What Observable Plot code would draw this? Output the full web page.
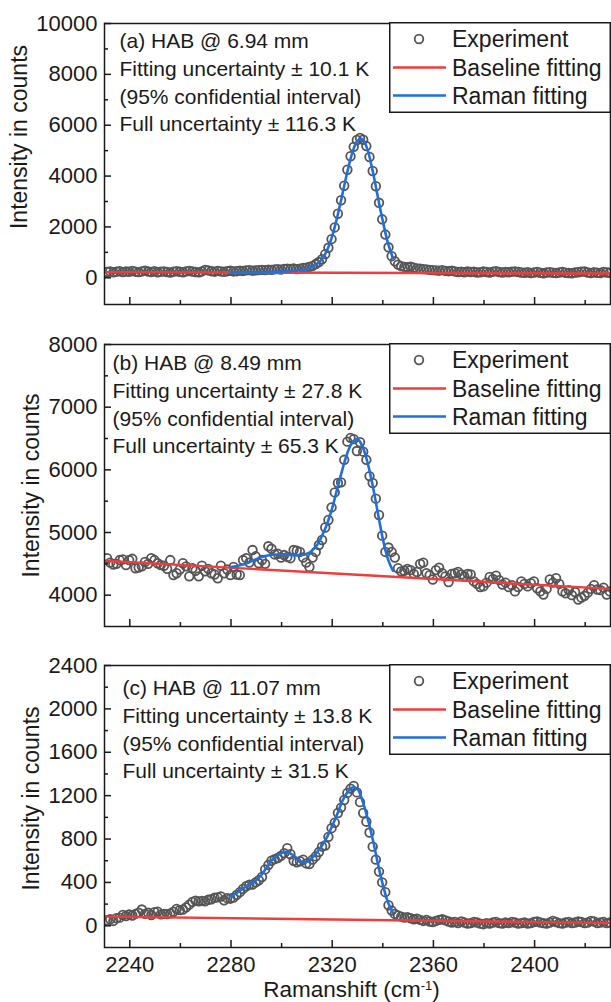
<!DOCTYPE html>
<html><head><meta charset="utf-8">
<script src="https://cdn.jsdelivr.net/npm/d3@7"></script>
<script src="https://cdn.jsdelivr.net/npm/@observablehq/plot@0.6"></script>
<style>
html,body{margin:0;padding:0;background:#fff;overflow:hidden;}
#chart{width:611px;}
.panel{position:relative;width:611px;}
.panel svg{display:block;}
</style></head><body><div id="chart"></div>
<script>
// Raman shift grid (cm^-1)
const ramanShift = [
2231,2232.25,2233.5,2234.75,2236,2237.25,2238.5,2239.75,2241,2242.25,
2243.5,2244.75,2246,2247.25,2248.5,2249.75,2251,2252.25,2253.5,2254.75,
2256,2257.25,2258.5,2259.75,2261,2262.25,2263.5,2264.75,2266,2267.25,
2268.5,2269.75,2271,2272.25,2273.5,2274.75,2276,2277.25,2278.5,2279.75,
2281,2282.25,2283.5,2284.75,2286,2287.25,2288.5,2289.75,2291,2292.25,
2293.5,2294.75,2296,2297.25,2298.5,2299.75,2301,2302.25,2303.5,2304.75,
2306,2307.25,2308.5,2309.75,2311,2312.25,2313.5,2314.75,2316,2317.25,
2318.5,2319.75,2321,2322.25,2323.5,2324.75,2326,2327.25,2328.5,2329.75,
2331,2332.25,2333.5,2334.75,2336,2337.25,2338.5,2339.75,2341,2342.25,
2343.5,2344.75,2346,2347.25,2348.5,2349.75,2351,2352.25,2353.5,2354.75,
2356,2357.25,2358.5,2359.75,2361,2362.25,2363.5,2364.75,2366,2367.25,
2368.5,2369.75,2371,2372.25,2373.5,2374.75,2376,2377.25,2378.5,2379.75,
2381,2382.25,2383.5,2384.75,2386,2387.25,2388.5,2389.75,2391,2392.25,
2393.5,2394.75,2396,2397.25,2398.5,2399.75,2401,2402.25,2403.5,2404.75,
2406,2407.25,2408.5,2409.75,2411,2412.25,2413.5,2414.75,2416,2417.25,
2418.5,2419.75,2421,2422.25,2423.5,2424.75,2426,2427.25,2428.5,2429.75];

// Experiment intensities (counts)
const expA = [
230,250,215,240,260,225,250,235,270,240,
225,250,280,245,230,260,215,240,250,230,
205,240,260,235,220,250,270,245,230,215,
250,310,290,260,240,270,250,235,260,280,
250,260,280,270,290,300,280,290,300,310,
300,320,310,330,340,320,350,360,350,370,
340,360,385,400,430,470,540,620,730,930,
1180,1520,1980,2520,3050,3620,4250,4780,5150,5420,
5500,5430,5180,4750,4200,3600,2950,2300,1700,1200,
850,650,520,460,430,420,440,400,370,360,
340,330,310,300,290,280,300,270,260,280,
250,230,240,220,250,230,240,210,220,250,
230,210,240,260,230,210,230,220,240,250,
230,210,200,220,190,210,230,200,180,210,
220,200,190,210,230,200,190,180,210,220,
240,250,210,190,220,200,190,230,210,200];
const expB = [
4590,4520,4490,4500,4560,4570,4480,4560,4580,4430,
4440,4460,4530,4500,4590,4560,4510,4480,4470,4420,
4560,4320,4350,4410,4510,4460,4300,4430,4390,4300,
4470,4380,4420,4350,4330,4270,4470,4350,4410,4320,
4450,4330,4320,4560,4590,4520,4720,4620,4510,4560,
4500,4780,4740,4650,4660,4600,4640,4610,4590,4720,
4710,4690,4600,4520,4450,4600,4690,4800,4880,5080,
5200,5400,5640,5790,5800,6160,6450,6510,6490,6300,
6440,6290,6160,5900,5790,5540,5280,4950,4690,4760,
4690,4600,4430,4380,4390,4420,4400,4340,4370,4500,
4520,4350,4320,4250,4400,4440,4350,4300,4210,4340,
4350,4370,4330,4300,4340,4330,4220,4180,4130,4140,
4200,4290,4260,4310,4240,4170,4200,4130,4160,4060,
4130,4220,4180,4140,4190,4220,4110,4060,4010,4100,
4250,4200,4270,4180,4060,4030,4080,4000,4050,3930,
3960,3990,4040,4100,4160,4090,4080,4120,4010,4060];
const expC = [
50,60,45,70,75,100,90,105,95,110,
120,150,110,120,100,125,130,105,110,108,
115,130,155,145,150,170,195,220,232,225,
230,225,240,245,258,262,270,235,255,250,
260,285,310,340,365,380,380,400,420,450,
520,560,600,615,625,645,670,715,660,600,
585,595,610,575,570,610,640,680,730,740,
820,900,950,1040,1090,1160,1225,1265,1290,1230,
1140,1040,960,860,730,610,500,400,310,190,
140,110,95,85,75,80,70,60,65,55,
45,55,40,35,45,55,60,50,40,30,
35,25,40,30,20,25,35,30,20,15,
25,20,30,35,25,20,30,25,35,30,
20,25,30,20,25,35,40,30,25,20,
30,45,35,25,20,30,35,25,30,40,
35,25,30,45,40,25,30,35,25,30];

// Raman fitting curves
const fitX = [2280,2282,2284,2286,2288,2290,2292,2294,2296,2298,2300,2302,2304,2306,2308,2310,2312,2314,2316,2318,2320,2322,2324,2326,2328,2330,2332,2334,2336,2338,2340,2342,2344];
const fitA = [220,220,221,222,223,225,227,230,234,239,245,255,268,285,310,350,420,540,740,1090,1640,2390,3270,4170,4930,5390,5450,5020,4200,3200,2230,1380,770];
const fitB = [4450,4460,4480,4505,4540,4575,4605,4630,4645,4650,4650,4645,4640,4635,4640,4660,4710,4800,4950,5140,5390,5700,6000,6270,6440,6490,6370,6110,5750,5320,4900,4580,4390];
const fitC = [275,300,330,365,395,420,470,535,600,640,670,682,660,620,585,590,625,680,740,820,920,1030,1150,1230,1275,1260,1150,990,800,580,380,220,120];

// Baseline fitting (linear)
const baseX = [2230, 2430];
const baseA = [225, 170];
const baseB = [4550, 4100];
const baseC = [85, 25];

// Axes
const xDomain = [2230, 2430];
const xMajor = [2240, 2280, 2320, 2360, 2400];
const xMinor = [2260, 2300, 2340, 2380, 2420];
const yDomainA = [-1050, 10000], yMajorA = [0,2000,4000,6000,8000,10000], yMinorA = [1000,3000,5000,7000,9000];
const yDomainB = [3500, 8000], yMajorB = [4000,5000,6000,7000,8000], yMinorB = [4500,5500,6500,7500];
const yDomainC = [-200, 2400], yMajorC = [0,400,800,1200,1600,2000,2400], yMinorC = [200,600,1000,1400,1800,2200];

// Texts
const heads = ["(a) HAB @ 6.94 mm", "(b) HAB @ 8.49 mm", "(c) HAB @ 11.07 mm"];
const fitUnc = ["10.1", "27.8", "13.8"];
const fullUnc = ["116.3", "65.3", "31.5"];
const legendLabels = ["Experiment", "Baseline fitting", "Raman fitting"];
const yTitle = "Intensity in counts";
const xTitle = "Ramanshift (cm-1)";

const FONT = "'Liberation Sans', Arial, Helvetica, sans-serif";
const INK = "#1a1a1a", GRAY = "#555555", RED = "#f03c3c", BLUE = "#1f6fdc";
const ML = 104, MR = 1, W = 611;

const panels = [
  {y: expA, fit: fitA, base: baseA, domain: yDomainA, major: yMajorA, minor: yMinorA, height: 323, mt: 23, mb: 19, annDx: 15, annDy: 5, labDx: -85, labDy: -27, xAxis: false},
  {y: expB, fit: fitB, base: baseB, domain: yDomainB, major: yMajorB, minor: yMinorB, height: 322, mt: 21, mb: 19, annDx: 8, annDy: 6, labDx: -73, labDy: 0, xAxis: false},
  {y: expC, fit: fitC, base: baseC, domain: yDomainC, major: yMajorC, minor: yMinorC, height: 357, mt: 20, mb: 55, annDx: 18, annDy: 10, labDx: -73, labDy: -8, xAxis: true}
];

const chart = document.getElementById("chart");

panels.forEach((p, i) => {
  const frameH = p.height - p.mt - p.mb;
  const frameW = W - ML - MR;
  const pts = ramanShift.map((x, j) => ({x, y: p.y[j]}));
  const fit = fitX.map((x, j) => ({x, y: p.fit[j]}));
  const base = baseX.map((x, j) => ({x, y: p.base[j]}));
  const ann = `${heads[i]}\nFitting uncertainty ± ${fitUnc[i]} K\n(95% confidential interval)\nFull uncertainty ± ${fullUnc[i]} K`;
  const marks = [
    Plot.dot(pts, {x: "x", y: "y", r: 4.3, stroke: GRAY, strokeWidth: 1.8, fill: "none", clip: true}),
    Plot.line(base, {x: "x", y: "y", stroke: RED, strokeWidth: 2.4, clip: true}),
    Plot.line(fit, {x: "x", y: "y", stroke: BLUE, strokeWidth: 2.6, curve: "catmull-rom"}),
    Plot.tickX(xMajor, {x: d => d, insetTop: frameH - 7, stroke: INK, strokeWidth: 1.5}),
    Plot.tickX(xMinor, {x: d => d, insetTop: frameH - 4, stroke: INK, strokeWidth: 1.5}),
    Plot.tickY(p.major, {y: d => d, insetRight: frameW - 7, stroke: INK, strokeWidth: 1.5}),
    Plot.tickY(p.minor, {y: d => d, insetRight: frameW - 4, stroke: INK, strokeWidth: 1.5}),
    Plot.axisY(p.major, {tickSize: 0, tickPadding: 7, tickFormat: d3.format("d"), label: null, fontSize: 22, fill: INK}),
    Plot.text([yTitle], {text: d => d, frameAnchor: "left", rotate: -90, dx: p.labDx, dy: p.labDy, fontSize: 23, textAnchor: "middle", lineAnchor: "middle", fill: INK}),
    Plot.text([ann], {text: d => d, frameAnchor: "top-left", dx: p.annDx, dy: p.annDy, fontSize: 21, lineHeight: 1.32, textAnchor: "start", lineAnchor: "top", fill: INK}),
    Plot.frame({stroke: INK, strokeWidth: 1.5})
  ];
  if (p.xAxis) {
    marks.push(Plot.axisX(xMajor, {tickSize: 0, tickPadding: 9, tickFormat: d3.format("d"), label: null, fontSize: 22, fill: INK}));
    marks.push(Plot.text([xTitle], {text: d => d, frameAnchor: "bottom", lineAnchor: "bottom", dy: 49, dx: -6, fontSize: 22.5, fill: INK}));
  }
  const svg = Plot.plot({
    width: W, height: p.height,
    marginLeft: ML, marginRight: MR, marginTop: p.mt, marginBottom: p.mb,
    style: {fontFamily: FONT, fontSize: "22px", background: "#fff", color: INK},
    x: {domain: xDomain, axis: null},
    y: {domain: p.domain, axis: null},
    marks
  });
  // superscript for cm-1
  svg.querySelectorAll("text").forEach(t => {
    if (t.textContent === xTitle) {
      t.textContent = "";
      const NS = "http://www.w3.org/2000/svg";
      const a = document.createElementNS(NS, "tspan"); a.textContent = "Ramanshift (cm"; t.appendChild(a);
      const b = document.createElementNS(NS, "tspan"); b.textContent = "-1"; b.setAttribute("dy", "-7"); b.setAttribute("font-size", "13"); t.appendChild(b);
      const c = document.createElementNS(NS, "tspan"); c.textContent = ")"; c.setAttribute("dy", "7"); t.appendChild(c);
    }
  });
  const div = document.createElement("div");
  div.className = "panel";
  div.style.height = p.height + "px";
  div.appendChild(svg);
  chart.appendChild(div);

  // legend box
  const lg = d3.select(div).append("svg")
    .attr("width", 222).attr("height", 92)
    .style("position", "absolute").style("left", "389px").style("top", (p.mt - 0.75) + "px")
    .style("font-family", FONT);
  lg.append("rect").attr("x", 0.75).attr("y", 0.75).attr("width", 220.5).attr("height", 89.5)
    .attr("fill", "#fff").attr("stroke", INK).attr("stroke-width", 1.5);
  const rows = [17, 45.5, 73.5];
  lg.append("circle").attr("cx", 30).attr("cy", rows[0]).attr("r", 4.3)
    .attr("fill", "none").attr("stroke", GRAY).attr("stroke-width", 1.8);
  lg.append("line").attr("x1", 4).attr("x2", 57).attr("y1", rows[1]).attr("y2", rows[1])
    .attr("stroke", RED).attr("stroke-width", 2.4);
  lg.append("line").attr("x1", 4).attr("x2", 57).attr("y1", rows[2]).attr("y2", rows[2])
    .attr("stroke", BLUE).attr("stroke-width", 2.6);
  legendLabels.forEach((s, k) => {
    lg.append("text").attr("x", 63).attr("y", rows[k]).attr("dy", "0.35em")
      .attr("font-size", 23).attr("fill", INK).text(s);
  });
});
</script></body></html>
